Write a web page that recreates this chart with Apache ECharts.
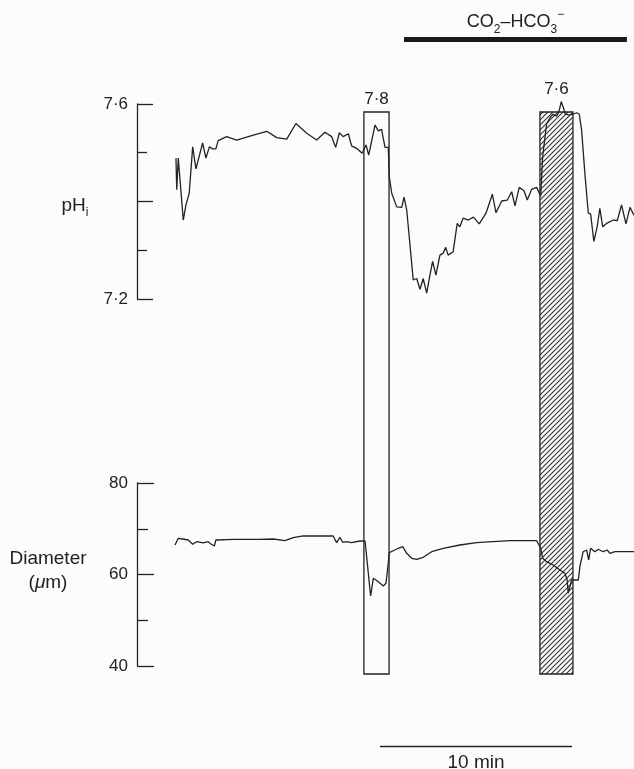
<!DOCTYPE html>
<html>
<head>
<meta charset="utf-8">
<script src="https://cdn.jsdelivr.net/npm/echarts@6/dist/echarts.min.js"></script>
<style>
  html, body { margin: 0; padding: 0; background: #fcfcfc; }
  #chart { width: 634px; height: 769px; }
</style>
</head>
<body>
<div id="chart"></div>
<script>
// time is in minutes from the left axis line
const phTrace = [
  [2.03, 7.489], [2.07, 7.424], [2.15, 7.489], [2.24, 7.489], [2.41, 7.362], [2.55, 7.393],
  [2.72, 7.417], [2.90, 7.512], [3.07, 7.467], [3.42, 7.520], [3.59, 7.489], [3.77, 7.512],
  [3.94, 7.508], [4.11, 7.508], [4.23, 7.525], [4.67, 7.533], [5.19, 7.526], [6.06, 7.536],
  [6.76, 7.544], [7.28, 7.531], [7.80, 7.528], [8.28, 7.560], [8.84, 7.540], [9.36, 7.526],
  [9.79, 7.542], [10.14, 7.533], [10.35, 7.511], [10.54, 7.541], [10.74, 7.533], [11.01, 7.539],
  [11.18, 7.514], [11.44, 7.509], [11.73, 7.499], [11.93, 7.516], [12.07, 7.495], [12.40, 7.557],
  [12.57, 7.545], [12.74, 7.548], [12.92, 7.511], [13.09, 7.511], [13.14, 7.451], [13.27, 7.417],
  [13.53, 7.389], [13.79, 7.388], [13.91, 7.409], [14.05, 7.383], [14.39, 7.239], [14.57, 7.242],
  [14.74, 7.220], [14.91, 7.242], [15.09, 7.212], [15.26, 7.249], [15.40, 7.277], [15.57, 7.249],
  [15.78, 7.290], [15.95, 7.294], [16.08, 7.306], [16.21, 7.290], [16.47, 7.297], [16.68, 7.355],
  [16.82, 7.348], [16.99, 7.366], [17.26, 7.362], [17.52, 7.368], [17.83, 7.354], [18.18, 7.376],
  [18.51, 7.415], [18.70, 7.377], [19.00, 7.401], [19.29, 7.403], [19.52, 7.420], [19.69, 7.391],
  [19.91, 7.429], [20.16, 7.422], [20.33, 7.403], [20.56, 7.425], [20.82, 7.429], [21.03, 7.411],
  [21.13, 7.492], [21.34, 7.560], [21.55, 7.574], [21.68, 7.579], [21.86, 7.575], [21.99, 7.586],
  [22.10, 7.605], [22.20, 7.594], [22.31, 7.579], [22.52, 7.577], [22.72, 7.579], [22.90, 7.582],
  [23.04, 7.579], [23.16, 7.547], [23.33, 7.458], [23.51, 7.376], [23.63, 7.374], [23.80, 7.318],
  [23.97, 7.348], [24.11, 7.386], [24.26, 7.348], [24.46, 7.355], [24.81, 7.362], [25.02, 7.361],
  [25.24, 7.393], [25.47, 7.354], [25.68, 7.388], [25.89, 7.372]
];

const diameterTrace = [
  [1.98, 66.45], [2.15, 67.91], [2.38, 67.76], [2.67, 67.54], [2.90, 66.60], [3.11, 67.17],
  [3.45, 66.89], [3.71, 67.17], [3.85, 66.67], [4.03, 66.23], [4.11, 67.54], [5.02, 67.69],
  [6.41, 67.69], [7.10, 67.76], [7.71, 67.39], [8.14, 68.04], [8.66, 68.42], [10.22, 68.42],
  [10.40, 66.95], [10.57, 68.13], [10.71, 67.04], [10.92, 67.17], [11.18, 66.95], [11.61, 67.32],
  [11.88, 67.32], [12.05, 60.26], [12.17, 55.30], [12.31, 59.17], [12.45, 58.80], [12.66, 58.08],
  [12.83, 57.49], [12.97, 58.08], [13.09, 62.45], [13.14, 64.77], [13.35, 65.20], [13.61, 65.73],
  [13.84, 66.08], [14.05, 64.63], [14.31, 63.54], [14.57, 63.32], [14.91, 63.76], [15.35, 64.98],
  [15.95, 65.73], [16.82, 66.45], [17.69, 66.95], [18.55, 67.17], [19.43, 67.39], [20.82, 67.39],
  [21.03, 65.73], [21.13, 63.54], [21.34, 62.80], [21.68, 62.08], [22.03, 60.98], [22.29, 60.26],
  [22.41, 58.80], [22.46, 55.89], [22.55, 57.33], [22.64, 58.80], [22.72, 58.43], [22.99, 58.80],
  [23.07, 61.70], [23.24, 64.98], [23.42, 65.36], [23.53, 63.17], [23.63, 65.73], [23.85, 64.98],
  [24.03, 65.51], [24.28, 64.98], [24.49, 65.36], [24.64, 64.63], [24.90, 64.98], [25.89, 64.98]
];

// test pulses (start, end in min), label = pH of the pulse solution
const pulseTimes = [[11.82, 13.13], [20.99, 22.71]];
const pulseLabels = ['7·8', '7·6'];
const pulseHatched = [false, true];

const co2Period = [13.91, 25.52];
const co2Label = '{t|CO}{sub|2}{t|–HCO}{sub|3}{sup|−}';

const scaleBar = [12.66, 22.66];
const scaleLabel = '10 min';

const phShownLabels = [7.2, 7.6];

const INK = '#222';
const FONT = '"Liberation Sans", Arial, sans-serif';
const timeMax = 25.89;
const labelLift = [13, 23];

function makeHatch() {
  const c = document.createElement('canvas');
  c.width = 5;
  c.height = 5;
  const ctx = c.getContext('2d');
  ctx.strokeStyle = '#333';
  ctx.lineWidth = 1.1;
  ctx.beginPath();
  ctx.moveTo(0, 5); ctx.lineTo(5, 0);
  ctx.moveTo(-1, 1); ctx.lineTo(1, -1);
  ctx.moveTo(4, 6); ctx.lineTo(6, 4);
  ctx.stroke();
  return c;
}
const hatch = makeHatch();

function hiddenX(gridIndex) {
  return { type: 'value', gridIndex, min: 0, max: timeMax, show: false };
}
function hiddenY(gridIndex) {
  return { type: 'value', gridIndex, min: 0, max: 1, show: false };
}

const axisLine = { show: true, lineStyle: { color: INK, width: 1.3 } };
const labelStyle = { margin: 9, fontSize: 17, color: INK, fontFamily: FONT };

const chart = echarts.init(document.getElementById('chart'));

chart.setOption({
  animation: false,
  backgroundColor: '#fcfcfc',
  grid: [
    { left: 137, top: 104, width: 497, height: 195 },   // pHi
    { left: 137, top: 483, width: 497, height: 183 },   // diameter
    { left: 137, top: 112, width: 497, height: 562 },   // pulse boxes
    { left: 137, top: 37, width: 497, height: 5 },      // CO2 bar
    { left: 137, top: 746, width: 497, height: 1 }      // scale bar
  ],
  xAxis: [hiddenX(0), hiddenX(1), hiddenX(2), hiddenX(3), hiddenX(4)],
  yAxis: [
    {
      type: 'value', gridIndex: 0, min: 7.2, max: 7.6, interval: 0.2,
      axisLine,
      axisTick: { show: true, inside: true, length: 16, lineStyle: { color: INK, width: 1.3 } },
      minorTick: { show: true, splitNumber: 2, length: 10, lineStyle: { color: INK, width: 1.3 } },
      splitLine: { show: false },
      axisLabel: Object.assign({}, labelStyle, {
        formatter(v) {
          const shown = phShownLabels.some((s) => Math.abs(s - v) < 1e-6);
          return shown ? v.toFixed(1).replace('.', '·') : '';
        }
      }),
      name: 'pH{sub|i}', nameLocation: 'middle', nameRotate: 0, nameGap: 62,
      nameTextStyle: {
        fontSize: 19, color: INK, fontFamily: FONT, lineHeight: 26, align: 'center', padding: [8, 0, 0, 0],
        rich: { sub: { fontSize: 12, color: INK, fontFamily: FONT, lineHeight: 26, verticalAlign: 'bottom' } }
      }
    },
    {
      type: 'value', gridIndex: 1, min: 40, max: 80, interval: 20,
      axisLine,
      axisTick: { show: true, inside: true, length: 17, lineStyle: { color: INK, width: 1.3 } },
      minorTick: { show: true, splitNumber: 2, length: 11, lineStyle: { color: INK, width: 1.3 } },
      splitLine: { show: false },
      axisLabel: labelStyle,
      name: 'Diameter\n({it|μ}m)', nameLocation: 'middle', nameRotate: 0, nameGap: 89,
      nameTextStyle: {
        fontSize: 19, color: INK, fontFamily: FONT, lineHeight: 24, align: 'center', padding: [0, 0, 7, 0],
        rich: { it: { fontSize: 19, fontStyle: 'italic', color: INK, fontFamily: FONT, lineHeight: 24 } }
      }
    },
    hiddenY(2), hiddenY(3), hiddenY(4)
  ],
  series: [
    {
      type: 'custom', xAxisIndex: 2, yAxisIndex: 2, z: 1,
      encode: { x: [0, 1] },
      data: pulseTimes,
      renderItem(params, api) {
        const i = params.dataIndex;
        const tl = api.coord([api.value(0), 1]);
        const br = api.coord([api.value(1), 0]);
        const w = br[0] - tl[0];
        return {
          type: 'group',
          children: [
            {
              type: 'rect',
              shape: { x: tl[0], y: tl[1], width: w, height: br[1] - tl[1] },
              style: {
                fill: pulseHatched[i] ? { image: hatch, repeat: 'repeat' } : 'none',
                stroke: INK, lineWidth: 1.3
              }
            },
            {
              type: 'text',
              style: {
                text: pulseLabels[i], x: tl[0] + w / 2, y: tl[1] - labelLift[i],
                textAlign: 'center', textVerticalAlign: 'middle',
                align: 'center', verticalAlign: 'middle',
                fill: INK, font: '17px ' + FONT
              }
            }
          ]
        };
      }
    },
    {
      type: 'custom', xAxisIndex: 3, yAxisIndex: 3,
      encode: { x: [0, 1] },
      data: [co2Period],
      renderItem(params, api) {
        const tl = api.coord([api.value(0), 1]);
        const br = api.coord([api.value(1), 0]);
        const sub = { fontSize: 12, fill: INK, fontFamily: FONT, lineHeight: 27, verticalAlign: 'bottom' };
        return {
          type: 'group',
          children: [
            {
              type: 'rect',
              shape: { x: tl[0], y: tl[1], width: br[0] - tl[0], height: br[1] - tl[1] },
              style: { fill: '#1a1a1a' }
            },
            {
              type: 'text',
              style: {
                text: co2Label, x: (tl[0] + br[0]) / 2, y: tl[1] - 15,
                textAlign: 'center', textVerticalAlign: 'middle',
                align: 'center', verticalAlign: 'middle',
                fill: INK, font: '18px ' + FONT,
                rich: {
                  t: { fontSize: 18, fill: INK, fontFamily: FONT, lineHeight: 27 },
                  sub,
                  sup: Object.assign({}, sub, { verticalAlign: 'top' })
                }
              }
            }
          ]
        };
      }
    },
    {
      type: 'custom', xAxisIndex: 4, yAxisIndex: 4,
      encode: { x: [0, 1] },
      data: [scaleBar],
      renderItem(params, api) {
        const a = api.coord([api.value(0), 0.5]);
        const b = api.coord([api.value(1), 0.5]);
        return {
          type: 'group',
          children: [
            {
              type: 'line',
              shape: { x1: a[0], y1: a[1], x2: b[0], y2: b[1] },
              style: { stroke: INK, lineWidth: 1.3 }
            },
            {
              type: 'text',
              style: {
                text: scaleLabel, x: (a[0] + b[0]) / 2, y: a[1] + 16,
                textAlign: 'center', textVerticalAlign: 'middle',
                align: 'center', verticalAlign: 'middle',
                fill: INK, font: '19px ' + FONT
              }
            }
          ]
        };
      }
    },
    {
      type: 'line', xAxisIndex: 0, yAxisIndex: 0, z: 3,
      data: phTrace, showSymbol: false, clip: false,
      lineStyle: { color: INK, width: 1.3 }
    },
    {
      type: 'line', xAxisIndex: 1, yAxisIndex: 1, z: 3,
      data: diameterTrace, showSymbol: false, clip: false,
      lineStyle: { color: INK, width: 1.3 }
    }
  ]
});
</script>
</body>
</html>
